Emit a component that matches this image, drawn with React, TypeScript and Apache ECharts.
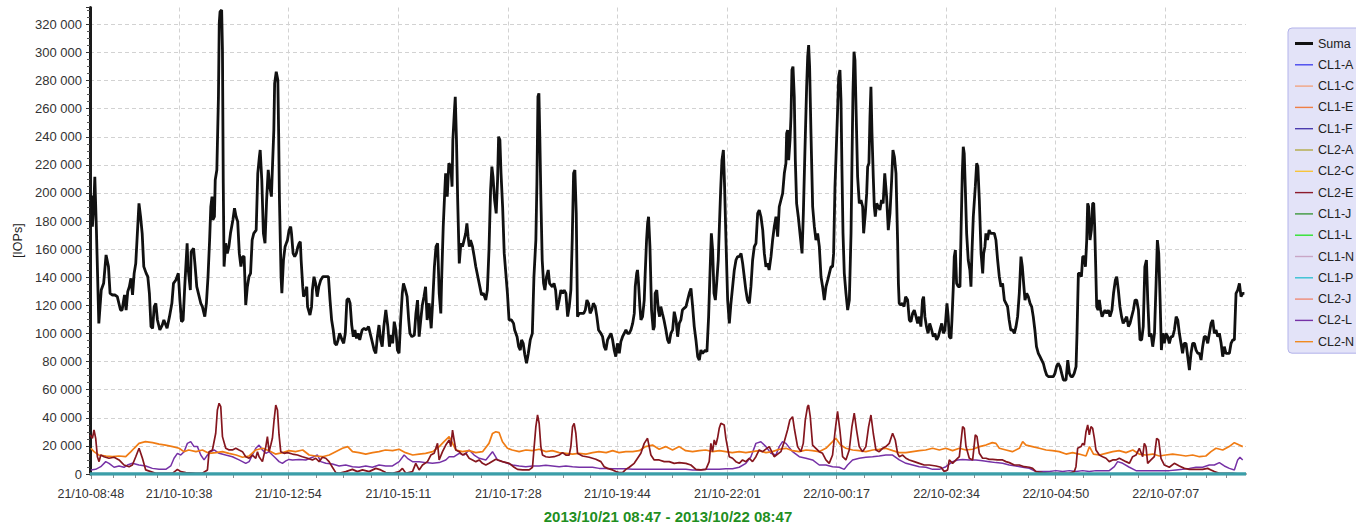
import React, { useEffect, useRef } from "react";
import * as echarts from "echarts";

// time axis: minutes after 2013/10/21 08:47
const START_DAY = 21;
const START_MIN = 8 * 60 + 47;
const X_END = 1440;
const X_LABEL_MIN = [1, 111, 247, 384, 521, 657, 794, 930, 1067, 1203, 1340];
const Y_MAX = 332000;
const Y_STEP = 20000;
const PERIOD_TEXT = "2013/10/21 08:47 - 2013/10/22 08:47";

const LEGEND_ORDER = ["Suma", "CL1-A", "CL1-C", "CL1-E", "CL1-F", "CL2-A", "CL2-C", "CL2-E", "CL1-J", "CL1-L", "CL1-N", "CL1-P", "CL2-J", "CL2-L", "CL2-N"];
const COLORS: Record<string, string> = {
  "Suma": "#111111", "CL1-A": "#4747ee", "CL1-C": "#f2a482", "CL1-E": "#ef7f45", "CL1-F": "#4b3cae",
  "CL2-A": "#b2aa45", "CL2-C": "#f7c43c", "CL2-E": "#8c1c2c", "CL1-J": "#3d983d", "CL1-L": "#2ee22e",
  "CL1-N": "#c9a6c6", "CL1-P": "#35c1d2", "CL2-J": "#ef8a76", "CL2-L": "#7631a6", "CL2-N": "#f08a20",
};

// Suma (thousands of IOPs)
const SUMA_T = [
  0,2,3,5,6,8,11,14,17,20, 23,25,28,31,34,38,40,43,45,47, 49,51,53,55,57,59,61,63,65,67,
  70,72,74,76,78,80,82,84,87,90, 92,96,99,102,104,107,110,112,114,116, 118,121,122,125,126,129,131,133,136,138,
  140,142,143,145,147,149,150.5,152,153,155, 156,158,160,161,162,164,165,166,167,169, 171,173,175,178,180,182,184,186,188,190,
  192,194,196,198,200,202,204,207,209,211, 212,214,216,218,220,222,224,226,227,229, 230,232,234,235,236,238,239,241,
  243,246,248,250,251,253,255,257,259,260.5, 262,263,265,266,268,270,271,274,276,277, 279,281,283,285,287.5,290,294,297,299,301,
  303,305,307,309,311,314,316,318,320,322, 324,326,328,330,332,334,336,339,341.5,344, 347,349,351,354,356,358,360,362,364,366,
  368.5,371,373,375,377,379,381,383,385,387, 389,390.5,393,395,397,398.5,401,404,406,408, 410,412,414,416,418,420,422.5,425,427,429,
  431,433,435,437,438,440,442,443,445,447, 449.5,451,452,454,455,456.5,458,460,462,464, 466,468,469.5,471,472.5,474,476.5,478.6,480.6,
  487.7,490,493,495,497,499,500.6,502,504,506, 507.7,509,510.6,512,514,516,518,520,522,525,
  527.6,529,532,534,536,537.6,539.6,541.7,543.8,546, 548.4,551,553,555.4,556.7,558,559.2,560.4,561.7,563.3,
  565,566.6,568.7,570.8,572.5,574,576,578,580,582, 584.5,586.6,588.7,590.7,592.8,595,597,599,600.7,602.4,
  604,605.7,607.3,609.4,612,615,617,619,621,623, 625,627,629.4,631.4,633.5,636.4,638.5,640.6,642.6,644.7,
  646.8,649,651,653,655,657,659.3,661.3,663.4,665.5, 667.6,669.6,671.7,673.8,676,678,679.2,681,682,683.3,
  685,686.3,688.3,690.4,691.6,693.3,694.6,695.8,697.5,699.5, 701.6,703,704,706,708,709.5,711,713,715,717.4, 719.5,721.5,723.6,
  725.8,727.8,730,732,734,736,738,740,742.4,744.4, 746.5,748.6,750.7,752.7,754.8,757,759,761,763,766.5,
  768.5,770.6,772.3,774,775.6,777.3,779,780.6,782.6,784, 785.6,787.2,789,790.5,792.2,794.3,796.4,798.4,800.5,802.6,
  804.7,806.7,808.8,811,813,815,817,819,821.3,823.3, 825.4,827.5,829.6,831.7,833.7,835.8,838,840,842,844,
  846,848.3,850.3,852.4,854.5,856.6,858.6,860.7,862.8,864.9, 866.9,867.8,869,870.3,872,873.2,874.4,875.7,877.3,878.6,
  880.2,882.3,884.4,887,888.6,890.6,892.7,894,895.2,896.4, 898.1,900.2,902.3,904.3,906.4,908.5,910.6,912.6,914.7,916.8,
  919,921,923,925,926.3,928,929.3,931,932.6,934.2, 935.5,936.7,938,939.6,941.7,943.8,945.9,948,949.2,950.4,
  951.7,952.9,954.2,956.2,958.3,960.4,962.5,963.7,965.8,967.5,
  968.7,970.3,971.6,972.8,974.1,975.7,977,978.2,980,982, 984,986,988,990,992.3,994.4,996.5,998.6,1000.2,1002,
  1004,1006,1007,1008,1010,1012,1014,1016,1018.5,1020.6, 1022.6,1024.7,1026.8,1029,1031,1033,1035,1037,1038.4,1040,
  1042,1044,1046,1048.4,1050.5,1052.5,1054.6,1056.7,1058.8,1061, 1063,1065,1067.5,1069,1070.4,1072.5,1073.7,1075.4,1076.6,1078,
  1079.5,1081.6,1083.7,1085,1086.6,1087.8,1089,1090.3,1092,1094, 1096,1097.4,1098.6,1100.3,1102.8,1104.5,1106,1107.8,1110,1112,
  1113.2,1114.8,1116,1118,1120,1122,1124.4,1126.5,1128.5,1130.6, 1132.7,1134.8,1136.8,1139,1141,1143,1145,1147,1149.3,1151.4,
  1153.5,1155.5,1157.6,1159.7,1161.4,1163,1164.7,1166.8,1168.8,1171, 1173,1175,1177,1179,1181.3,1183.4,1185.5,1187.5,1189.6,1191.7,
  1193.8,1196,1198,1200,1202,1204,1206,1208.3,1210.4,1212.5,
  1215.8,1218,1220,1222,1224,1226,1228.3,1229.5,1231.2,1233.2, 1235,1236.6,1238.6,1240,1241.6,1242.8,1244,1245.7,1247.4,1249,
  1250.3,1251.5,1252.8,1254,1255.7,1257.3,1259,1260.7,1262.3,1264.4, 1266.5,1268.6,1270.6,1273,1275,1277.3,1279,1281,1283,1285,
  1287,1289.3,1291.4,1293.5,1295.5,1297.6,1299.7,1301.8,1303.8,1306, 1308,1310,1312,1314,1316,1317.6,1319.6,1321.7,1323.8,1326,
  1328,1329.6,1331.3,1333,1334.6,1336.2,1338.3,1340.4,1342.5,1344.5, 1346.6,1348.7,1350.8,1353,1355,1357,1359,1361,1363,1365.3,
  1367.4,1369.5,1371.5,1373.6,1375.7,1377.8,1380,1382,1384,1386, 1388,1390,1392.3,1394.4,1396.5,1398.5,1400.6,1402.7,1404.8,1406.8,
  1409,1411,1413,1415,1417,1419.3,1421.4,1423.5,1425.5,1427.6, 1429.7,1431.8,1433.8,1436,1438,
];
const SUMA_K = [
  198.6,197.4,176.0,195.0,211.6,173.6,107.2,130.9,135.7,155.9, 147.6,128.6,127.4,127.4,126.2,116.7,116.7,127.4,116.7,129.8,
  133.3,139.3,127.4,142.8,149.9,171.3,192.6,183.1,171.3,147.6, 142.8,140.4,128.6,104.9,103.7,119.1,121.5,109.6,102.5,106.0,
  109.6,103.7,112.0,121.5,135.7,138.1,142.8,123.8,108.4,109.6, 133.3,164.2,147.6,130.9,158.2,160.6,147.6,133.3,126.2,121.5,
  119.1,114.3,112.0,121.5,140.4,166.5,190.3,197.4,180.8,183.1, 209.2,216.4,268.5,320.7,329.0,330.2,301.8,206.9,147.6,164.2,
  157.0,161.8,171.3,180.8,189.1,183.1,179.6,157.0,147.6,154.7, 154.7,120.3,133.3,140.4,142.8,166.5,171.3,173.6,214.0,225.8,
  230.6,209.2,171.3,164.2,195.0,216.4,204.5,197.4,214.0,244.8, 278.0,286.3,280.4,242.4,195.0,140.4,128.6,152.3,
  161.8,166.5,173.6,176.0,171.3,157.0,154.7,157.0,161.8,164.2, 165.3,152.3,133.3,126.2,128.6,133.3,119.1,113.1,119.1,130.9,
  140.4,135.7,126.2,133.3,138.1,140.4,140.4,140.4,123.8,109.6, 102.5,93.0,91.8,95.4,100.1,95.4,93.0,100.1,123.8,125.0,
  121.5,106.0,97.7,102.5,96.5,100.1,95.4,102.5,103.7,102.5, 104.9,100.1,95.4,88.2,85.9,97.7,106.0,95.4,90.6,104.9,
  116.7,104.9,90.6,98.9,93.0,108.4,102.5,88.2,85.9,109.6, 128.6,135.7,130.9,126.2,109.6,100.1,97.7,98.9,114.3,123.8,
  97.7,109.6,120.3,126.2,133.3,109.6,121.5,103.7,123.8,147.5, 161.8,164.2,128.6,114.3,138.1,176.0,202.1,214.0,197.4,221.1,
  218.7,204.5,237.7,259.0,268.5,237.7,195.0,149.9,164.2,161.8, 166.5,171.3,178.4,168.9,161.8,166.5,161.8,154.7,147.5,
  127.4,128.6,123.8,130.9,159.4,202.1,218.7,211.6,195.0,185.5, 209.2,240.1,237.7,214.0,190.2,157.0,142.8,128.6,109.6,109.6,
  107.2,102.5,97.7,90.6,88.2,95.4,93.0,84.7,78.8,85.9, 95.4,100.1,140.4,166.5,206.8,268.5,270.9,237.7,195.0,152.3,
  135.7,130.9,140.4,145.2,135.7,134.5,133.3,135.7,130.9,116.7, 123.8,130.9,128.6,130.9,128.6,112.0,119.1,130.9,166.5,214.0,
  216.4,185.5,112.0,114.3,114.3,114.3,116.7,123.8,121.5,114.3, 116.7,121.5,119.1,112.0,102.5,100.1,97.7,90.6,88.2,95.4,
  97.7,100.1,95.4,88.2,83.5,93.0,85.9,94.2,97.7,100.1, 102.5,100.1,100.1,102.5,107.2,114.3,133.3,142.8,145.2,135.7,
  119.1,109.6,112.0,123.8,142.8,166.5,178.4,183.1,161.8,116.7, 102.5,104.9,128.6,130.9,116.7,112.0,119.1,114.3,109.6,102.5, 95.4,93.0,100.1,
  102.5,115.5,109.6,97.7,107.2,109.6,116.7,117.9,119.1,123.8, 128.6,132.1,119.1,104.9,95.4,83.5,81.1,88.2,85.9,88.2,
  87.0,112.0,142.8,171.3,159.4,128.6,123.8,135.7,152.3,176.0, 202.1,223.4,230.6,204.5,166.5,123.8,107.2,121.5,133.3,145.2,
  152.3,154.7,154.7,157.0,149.9,140.4,130.9,123.8,121.5,133.3, 152.3,161.8,164.2,185.5,187.9,183.1,173.6,157.0,147.5,149.9,
  145.2,154.7,166.5,176.0,183.1,168.9,190.2,195.0,199.7,214.0, 221.1,242.4,244.8,223.4,237.7,254.3,287.5,289.9,268.5,223.4,
  192.6,183.1,171.3,157.0,185.5,230.6,275.6,297.0,305.3,289.9, 242.4,190.2,176.0,166.5,171.3,161.8,140.4,133.3,123.8,133.3,
  138.1,142.8,147.5,147.5,157.0,204.5,225.8,254.3,282.7,287.5, 266.1,216.3,171.3,142.8,128.6,116.7,123.8,171.3,223.4,270.9,
  300.5,294.6,261.4,211.6,192.6,195.0,190.2,171.3,185.5,199.7,
  218.7,221.1,254.3,275.6,242.4,211.6,190.2,183.1,192.6,190.2, 187.9,195.0,192.6,214.0,197.4,173.6,185.5,209.2,230.6,225.8,
  214.0,166.5,135.7,121.5,120.3,121.5,119.1,126.2,123.8,109.6, 108.4,114.3,116.7,112.0,107.2,112.0,104.9,123.8,126.2,112.0,
  104.9,100.1,107.2,102.5,97.7,100.1,95.4,97.7,102.5,107.2, 100.1,102.5,121.5,112.0,97.7,96.5,109.6,133.3,154.7,159.4,
  135.7,133.3,133.3,171.3,214.0,232.9,228.2,204.5,171.3,152.3, 145.2,133.3,157.0,183.1,204.5,221.1,218.7,195.0,157.0,142.8,
  157.0,161.8,171.3,166.5,173.6,171.3,171.3,171.3,166.5,152.3, 140.4,133.3,135.7,123.8,121.5,119.1,109.6,102.5,102.5,100.1,
  104.9,112.0,128.6,154.7,147.5,135.7,123.8,128.6,126.2,121.5, 119.1,112.0,102.5,90.6,85.9,83.5,81.1,78.8,74.0,70.5,
  69.3,69.3,69.3,69.3,71.6,76.4,78.8,76.4,71.6,66.9,
  66.9,81.1,71.6,69.3,69.3,71.6,76.4,100.1,142.8,142.8, 140.4,154.7,154.7,147.5,166.5,192.6,190.2,166.5,173.6,192.6,
  192.6,176.0,147.5,119.1,116.7,123.8,116.7,112.0,114.3,116.7, 114.3,116.7,112.0,116.7,128.6,138.1,140.4,130.9,119.1,112.0,
  107.2,109.6,112.0,104.9,107.2,112.0,116.7,123.8,123.8,116.7, 95.4,95.4,104.9,147.5,152.3,123.8,97.7,100.1,90.6,100.1,
  135.7,166.5,157.0,123.8,88.2,100.1,93.0,100.1,97.7,93.0, 97.7,97.7,102.5,112.0,109.6,100.1,93.0,85.9,93.0,93.0,
  83.5,74.0,85.9,93.0,93.0,88.2,85.9,85.9,81.1,90.6, 97.7,97.7,93.0,100.1,107.2,109.6,100.1,102.5,97.7,100.1,
  93.0,83.5,90.6,85.9,85.9,85.9,93.0,95.4,95.4,128.6, 130.9,135.7,126.2,128.6,128.6,
];

// CL2-N (orange)
const CL2N_T = [
  1,5,11,20,28,36,44.5,51,55,61, 69,78,86,94,103,111,117,123,132,140, 148,157,165,173,182,190,198,206.5,215,223,
  231,240,248,256,265,273,281,289.5,298,306, 314.5,321,327,335,343.5,352,360,368,377,385, 393,402,410,418,427,435,441,447.4,
  455.7,464,472,480.6,489,497,501.4,505.5,509.7,513.8, 520,526,534.6,543,551,559.5,568,576,584.4,593,
  601,609,618,626,634,643,651,659,667.5,676, 684,692,700.7,709,717,725.7,734,742,750.6,759,
  767,775.5,784,792,800,808.7,817,825,833.6,842, 850,858.6,867,875,883.5,892,900,908,916.7,925,
  929,935,941.6,950,958,966.5,975,983,991,1000, 1008,
  1016.4,1024.7,1033,1041,1049.6,1058,1066,1074.5,1083,1091, 1099.5,1108,1116,1124,1128.5,1132.7,1141,1149,1157.6,1161.8,
  1166,1174,1182.5,1191,1199,1207.4,1215.8,1224,1232,1240.7, 1245,1250,1257.3,1265.6,1274,1282,1290.5,1299,1307,1315,
  1324,1332,1340,1348.6,1357,1365,1373.6,1382,1390,1396.4, 1402.6,1411,1419,1425.5,1431.7,1436,
];
const CL2N_K = [
  18.3,15.9,13.5,12.8,12.3,12.8,12.3,15.9,18.3,21.8, 23.0,22.3,21.3,20.6,19.5,18.3,15.9,17.1,15.9,17.1,
  14.7,15.2,15.9,14.7,13.5,11.9,12.8,17.1,18.3,16.6, 14.2,15.2,16.6,15.9,17.1,13.5,12.8,12.3,13.5,15.9,
  18.3,19.5,15.9,15.2,14.2,15.2,15.9,17.1,16.6,17.6, 15.2,13.5,14.2,14.7,15.9,19.5,23.0,26.6,
  17.1,15.9,16.6,15.2,15.9,21.8,28.9,30.1,29.4,23.0, 18.3,17.1,15.9,17.1,16.6,17.6,15.9,16.6,15.2,14.7,
  14.2,14.7,14.2,15.2,15.9,15.2,16.6,15.2,15.9,15.9, 16.6,19.5,20.6,17.6,19.5,17.1,19.5,16.6,15.9,16.6,
  17.1,15.9,16.6,15.9,15.2,15.9,15.2,15.9,16.6,15.2, 15.9,17.6,18.3,16.6,15.9,17.1,16.6,15.9,18.3,23.0,
  25.4,20.6,18.3,17.1,16.6,15.9,17.1,17.6,18.3,16.6, 15.2,
  15.2,15.9,16.6,17.1,18.3,17.1,18.3,16.6,18.3,17.1, 17.6,19.5,20.6,22.3,21.8,18.3,17.1,15.9,18.3,23.0,
  20.6,19.5,18.3,17.1,16.6,15.9,14.2,15.2,14.2,12.8, 19.5,14.2,13.5,14.7,15.9,16.6,15.2,17.1,14.2,13.5,
  14.2,12.8,13.5,14.2,13.5,12.8,13.5,12.3,12.8,15.9, 18.3,17.1,19.5,22.3,20.6,19.5,
];

// CL2-L (purple)
const CL2L_T = [
  1,7,13.4,19.6,23.7,30,36.2,42.4,46.6,52.8, 61,69.4,77.7,86,94.4,100.6,104.7,108.9,113,117.2,
  121.3,125.5,129.6,133.8,138,142.1,146.3,150.4,154.6,160.8, 169,177.4,185.7,194,198.2,202.3,206.5,210.6,214.8,219,
  223.1,227.2,231.4,235.5,239.7,243.9,248,252.2,260.5,268.8, 277.1,283.3,287.5,293.7,302,310.3,318.6,326.9,335.2,343.5,
  351.8,360.1,368.4,376.8,385.1,391.3,395.4,401.7,410,418.3, 426.6,434.9,443.2,447.4,
  453.6,459.9,466.1,472.3,478.5,484.8,493.1,501.4,507.6,513.8, 520.1,526.3,534.6,542.9,551.2,559.5,567.8,576.1,584.4,592.8,
  601.1,609.4,617.7,626,634.3,642.6,650.9,659.2,667.5,675.8, 684.1,692.4,700.7,709,717.3,725.7,734,742.3,750.6,758.9,
  767.2,775.5,783.8,792.1,800.4,808.7,817,823.3,829.5,835.7, 842,848.2,854.4,858.6,862.7,866.9,875.2,883.5,891.8,900.1,
  908.4,916.7,925,933.3,939.5,943.7,949.9,958.2,966.5,974.8, 983.1,991.4,999.8,1008.1,
  1016.4,1024.7,1033,1041.3,1049.6,1057.9,1066.2,1074.5,1080.8,1087, 1095.3,1103.6,1111.9,1120.2,1128.5,1136.8,1145.1,1153.5,1161.8,1170.1,
  1178.4,1186.7,1195,1203.3,1211.6,1219.9,1228.2,1236.5,1244.8,1253.1, 1261.4,1269.7,1276,1280.1,1286.4,1294.7,1303,1311.3,1319.6,1327.9,
  1336.2,1344.5,1352.8,1361.1,1369.4,1377.7,1386,1394.3,1400.6,1406.8, 1413,1419.3,1425.5,1429.6,1432.5,1435.9,
];
const CL2L_K = [
  2.9,3.3,5.2,8.8,7.6,4.8,5.7,4.8,6.4,7.6, 6.4,5.7,4.0,3.3,3.3,5.7,11.2,14.7,13.5,15.9,
  21.8,23.0,19.5,19.5,13.5,10.0,13.5,15.9,17.1,14.7, 13.5,12.3,10.0,7.6,8.8,13.5,18.3,20.6,17.1,14.7,
  15.9,13.5,11.2,8.8,7.6,9.3,10.4,10.0,10.4,10.0, 11.9,13.5,8.8,7.6,7.1,5.7,6.4,5.2,4.8,5.7,
  4.8,6.4,5.7,5.7,8.8,13.5,11.2,8.8,8.8,8.1, 7.6,8.1,10.0,12.3,
  12.3,14.7,13.5,17.1,13.5,11.2,10.0,15.9,10.0,8.8, 7.6,6.4,5.7,5.2,5.7,5.7,6.2,5.7,5.2,5.7,
  5.2,4.8,4.8,4.8,4.0,4.0,3.8,3.8,3.8,3.3, 3.3,3.3,3.3,3.3,3.3,3.3,3.3,3.3,2.9,2.9,
  3.3,3.3,3.3,3.8,3.8,4.8,7.6,12.3,21.8,23.0, 19.5,14.7,13.5,19.5,23.0,21.8,15.9,12.3,11.2,10.0,
  6.4,6.4,5.2,4.8,3.3,6.4,10.0,11.2,11.9,12.3, 12.8,13.5,13.5,10.0,
  7.6,6.4,5.2,4.8,3.3,3.3,5.2,8.8,10.0,10.4, 10.0,10.0,9.5,8.8,8.1,7.6,6.4,5.7,4.8,4.0,
  1.7,1.7,1.7,2.4,1.7,2.4,1.7,2.4,1.7,2.4, 2.4,2.4,5.2,8.8,7.6,4.8,2.4,2.4,2.4,2.4,
  2.4,2.4,2.9,3.3,4.0,4.8,4.8,6.4,6.4,8.1, 5.7,4.0,2.9,10.0,11.9,10.0,
];

// CL2-E (dark red)
const CL2E_T = [
  0,3,5,7.1,9.2,11.3,13.4,17.5,23.7,30, 36.2,42.4,48.7,52.8,57,61.1,65.3,69.4,75.7,81.9,
  94.4,102.7,108.9,113,119.3,131.7,140,146.3,148.3,152.5, 156.6,158.7,160.8,162.9,165,169.1,173.3,177.4,181.6,185.7,
  189.9,194,198.2,202.3,206.5,208.6,210.6,214.8,219,221, 223.1,225.2,227.2,229.3,231.4,233.5,235.5,237.6,241.8,245.9,
  252.2,258.4,264.6,270.9,277.1,281.2,285.4,289.5,293.7,297.8, 302,306.2,310.3,318.6,326.9,333.1,339.4,347.7,356,362.2,
  368.4,376.8,385.1,389.2,393.4,401.7,405.8,410,414.2,420.4, 424.6,428.7,432.9,434.9,439.1,443.2,447.4,
  449.5,451.6,453.6,455.7,459.9,464,468.2,472.3,476.5,480.6, 484.8,488.9,493.1,497.2,505.5,513.8,522.2,528.4,532.5,538.8,
  547.1,551.2,553.3,555.4,557.5,559.5,561.6,563.7,567.8,572, 578.2,584.4,588.6,592.8,596.9,599,601.1,603.1,605.2,607.3,
  613.5,621.8,630.1,636.4,640.5,644.7,650.9,655.1,659.2,663.4, 667.5,671.7,677.9,682.1,686.2,690.4,694.5,698.7,702.8,709,
  715.3,721.5,727.7,734,742.3,748.5,754.7,761,767.2,771.3, 773.4,775.5,777.6,779.6,781.7,783.8,785.9,790,792.1,796.3,
  800.4,804.6,808.7,812.9,817,821.2,825.3,829.5,833.6,837.8, 846.1,852.3,860.6,864.8,868.9,871.8,875.2,877.7,881.4,885.5,
  888.5,891,893.8,895.1,897.2,900.1,904.2,908.4,912.5,916.7, 920.8,925,928.3,931.2,934.1,937.5,941.6,945.8,949.1,952,
  954.9,958.2,962.4,966.5,969.9,972.8,975.7,979,983.1,987.3, 991.4,995.6,999.8,1003.1,1006,1008.1,
  1012.3,1016.4,1020.6,1026.8,1033,1039.2,1045.5,1053.8,1060,1064.2, 1068.3,1070.4,1074.5,1078.7,1082.9,1087,1089.1,1091.2,1095.3,1099.5,
  1102.8,1104.9,1107.8,1111.9,1116.1,1120.2,1124.4,1130.6,1136.8,1141, 1145.1,1151.4,1157.6,1163.8,1170.1,1174.2,1178.4,1186.7,1195,1203.3,
  1211.6,1219.9,1226.1,1228.2,1230.3,1234.5,1236.5,1238.6,1240.7,1242.8, 1244.8,1246.9,1249,1251.1,1253.1,1257.3,1261.4,1265.6,1269.7,1273.9,
  1278,1282.2,1286.4,1290.5,1294.7,1298.8,1303,1307.1,1311.3,1313.3, 1315.4,1317.5,1321.6,1325.8,1328.7,1331.2,1334.1,1338.3,1344.5,1350.7,
  1357,1363.2,1369.4,1377.7,1386,1392.3,1396.4,1400.6,1406.8,1415.1, 1423.4,1431.7,1438,
];
const CL2E_K = [
  27.8,25.4,31.3,25.4,12.3,8.8,13.5,12.3,11.2,11.9, 10.0,6.4,5.2,6.4,12.3,18.3,11.2,2.9,1.7,0.5,
  0.5,0.5,3.3,1.7,1.0,0.5,0.5,2.9,15.9,17.1, 29.0,45.6,50.3,47.9,26.6,18.3,17.1,17.1,18.3,17.1,
  15.9,12.3,11.2,13.5,11.2,15.9,12.3,8.8,19.5,26.6, 15.9,20.6,25.4,38.4,49.1,45.6,27.8,15.9,14.7,15.2,
  14.2,13.5,12.3,11.2,10.0,11.2,8.8,11.9,11.2,8.8, 4.8,1.0,0.5,1.7,3.3,1.7,2.9,1.7,4.0,2.9,
  1.0,0.5,1.7,4.0,0.5,1.7,7.6,2.9,6.4,8.8, 13.5,14.7,21.8,10.0,15.9,20.6,24.2,
  19.5,31.3,24.2,17.1,15.9,13.5,14.7,11.2,10.0,8.8, 10.0,7.6,6.4,7.6,10.5,8.8,7.6,4.8,3.3,2.9,
  2.9,4.8,19.5,33.7,42.0,36.1,19.5,13.5,12.3,11.9, 12.3,13.5,15.2,13.5,13.5,19.5,33.7,36.1,29.0,14.7,
  12.8,11.9,10.5,8.8,5.2,4.0,2.9,1.7,1.0,1.0, 3.3,4.8,7.6,11.2,14.7,21.8,25.4,13.5,10.0,10.0,
  8.8,8.8,7.6,8.1,7.6,6.4,3.3,2.9,3.3,8.8, 21.8,15.9,24.2,20.6,25.4,32.5,36.1,34.9,25.4,12.3,
  11.2,8.8,7.6,10.0,8.8,11.2,8.8,12.3,17.1,15.9, 19.5,12.3,15.9,23.0,31.3,38.4,40.8,31.3,19.5,15.9,
  21.8,38.4,47.9,49.1,40.8,20.6,18.3,15.9,14.7,10.0, 7.6,13.5,31.3,44.5,31.3,12.3,10.0,17.1,33.7,43.3,
  31.3,19.5,15.9,19.5,33.7,42.0,29.0,17.1,15.9,18.3, 19.5,21.8,29.0,24.2,14.7,12.3,
  13.5,11.2,10.0,8.8,7.6,6.4,6.4,5.7,4.8,1.7, 2.9,10.0,7.6,10.0,12.3,33.7,32.5,19.5,11.2,10.0,
  27.8,26.6,14.7,11.2,11.2,10.4,10.4,10.0,10.0,8.8, 8.1,6.4,6.4,5.2,4.8,4.0,1.7,1.0,0.5,0.5,
  0.5,0.5,1.7,5.2,18.3,19.5,21.8,20.6,30.1,34.9, 27.8,33.7,32.5,25.4,17.1,13.5,12.3,11.2,8.8,10.0,
  10.0,11.2,10.0,8.8,7.6,12.3,13.5,18.3,12.3,21.8, 19.5,7.6,10.0,12.3,25.4,24.2,11.2,6.4,4.8,7.6,
  5.7,4.0,3.3,3.3,3.3,4.0,2.9,1.7,0.5,0.5, 0.5,0,0,
];

// series that stay at zero for the whole period
const ZERO_T = [0, 1440];
const ZERO_K = [0, 0];
const ZERO_SERIES = ["CL1-A", "CL1-C", "CL1-E", "CL1-F", "CL2-A", "CL2-C", "CL1-J", "CL1-L", "CL1-N", "CL2-J", "CL1-P"];

const pairs = (T: number[], K: number[]) => T.map((t, i) => [t, Math.round(K[i] * 1000)]);

function fmtTime(v: number) {
  const total = START_MIN + Math.round(v);
  const day = START_DAY + Math.floor(total / 1440);
  const m = total % 1440;
  const hh = String(Math.floor(m / 60)).padStart(2, "0");
  const mm = String(m % 60).padStart(2, "0");
  return `${day}/10-${hh}:${mm}`;
}
function fmtNum(v: number) {
  return String(Math.round(v)).replace(/\B(?=(\d{3})+(?!\d))/g, " ");
}

const bounds = [...X_LABEL_MIN, X_END];
const MINOR_TICKS: number[] = [];
for (let i = 0; i < bounds.length - 1; i++) {
  for (let k = 1; k < 4; k++) MINOR_TICKS.push(bounds[i] + (k * (bounds[i + 1] - bounds[i])) / 4);
}

const FONT = "'Liberation Sans', Arial, sans-serif";

function buildOption() {
  const lineSeries = (name: string, data: number[][], width: number, lineColor?: string, z = 2) => ({
    name,
    type: "line",
    data,
    showSymbol: false,
    symbol: "none",
    xAxisIndex: 0,
    yAxisIndex: 0,
    z,
    itemStyle: { color: COLORS[name] },
    lineStyle: { color: lineColor || COLORS[name], width },
    emphasis: { disabled: true },
  });
  const series: any[] = [];
  ZERO_SERIES.forEach((n) => {
    if (n === "CL1-P") return;
    series.push(lineSeries(n, pairs(ZERO_T, ZERO_K), 1.5));
  });
  series.push(lineSeries("CL2-L", pairs(CL2L_T, CL2L_K), 1.5));
  series.push(lineSeries("CL2-N", pairs(CL2N_T, CL2N_K), 1.7, "#f07c14"));
  series.push(lineSeries("CL2-E", pairs(CL2E_T, CL2E_K), 1.7, "#85161e"));
  series.push(lineSeries("CL1-P", pairs(ZERO_T, ZERO_K), 3.5, "#3b9ea8", 3));
  series.push(lineSeries("Suma", pairs(SUMA_T, SUMA_K), 2.8, undefined, 4));

  return {
    animation: false,
    backgroundColor: "#ffffff",
    textStyle: { fontFamily: FONT },
    grid: { left: 90, right: 110, top: 7.5, bottom: 52, containLabel: false, outerBoundsMode: "none" },
    legend: {
      orient: "vertical",
      left: 1288,
      top: 28,
      padding: [9, 12, 5, 7],
      itemGap: 8.3,
      itemWidth: 18,
      itemHeight: 12,
      symbolKeepAspect: true,
      selectedMode: false,
      backgroundColor: "#e3e3f8",
      borderColor: "#b3b3ea",
      borderWidth: 1,
      borderRadius: 4,
      textStyle: { fontSize: 12.5, color: "#222", fontFamily: FONT },
      data: LEGEND_ORDER.map((n) => ({
        name: n,
        icon: n === "Suma" ? "path://M0,0H18V3H0Z" : "path://M0,0H18V1.4H0Z",
      })),
    },
    xAxis: [
      {
        type: "value",
        min: 0,
        max: X_END,
        position: "bottom",
        axisLine: { show: true, onZero: false, lineStyle: { color: "#9c9c9c", width: 2 } },
        axisTick: { show: true, customValues: X_LABEL_MIN, length: 5, lineStyle: { color: "#8a8a8a" } },
        axisLabel: { customValues: X_LABEL_MIN, formatter: fmtTime, fontSize: 12.5, color: "#333", margin: 13, fontFamily: FONT },
        splitLine: { show: true, lineStyle: { color: "#d2d2d2", type: [4, 3], width: 1 } },
        name: PERIOD_TEXT,
        nameLocation: "middle",
        nameGap: 35,
        nameTextStyle: { color: "#1f8f1f", fontSize: 15, fontWeight: "bold", fontFamily: FONT },
      },
      {
        type: "value",
        min: 0,
        max: X_END,
        position: "bottom",
        axisLine: { show: false, onZero: false },
        axisTick: { show: true, customValues: MINOR_TICKS, length: 4, lineStyle: { color: "#8a8a8a" } },
        axisLabel: { show: false },
        splitLine: { show: false },
      },
    ],
    yAxis: {
      type: "value",
      min: 0,
      max: Y_MAX,
      interval: Y_STEP,
      axisLine: { show: true, lineStyle: { color: "#1a1a1a", width: 3 } },
      axisTick: { show: true, length: 4, lineStyle: { color: "#333" } },
      minorTick: { show: true, splitNumber: 4, length: 3, lineStyle: { color: "#555" } },
      axisLabel: { formatter: fmtNum, color: "#333", fontSize: 13, margin: 8, showMaxLabel: false, fontFamily: FONT },
      splitLine: { show: true, showMaxLine: false, lineStyle: { color: "#d2d2d2", type: [4, 3], width: 1 } },
      name: "[IOPs]",
      nameLocation: "middle",
      nameGap: 64,
      nameTextStyle: { color: "#222", fontSize: 12.5, fontFamily: FONT },
    },
    series,
  };
}

export default function App() {
  const ref = useRef<HTMLDivElement>(null);
  useEffect(() => {
    if (!ref.current) return;
    const chart = echarts.init(ref.current, undefined, { renderer: "svg" });
    chart.setOption(buildOption() as any);
    return () => chart.dispose();
  }, []);
  return (
    <div
      ref={ref}
      style={{ position: "fixed", left: 0, top: 0, width: 1356, height: 526, background: "#ffffff" }}
    />
  );
}
